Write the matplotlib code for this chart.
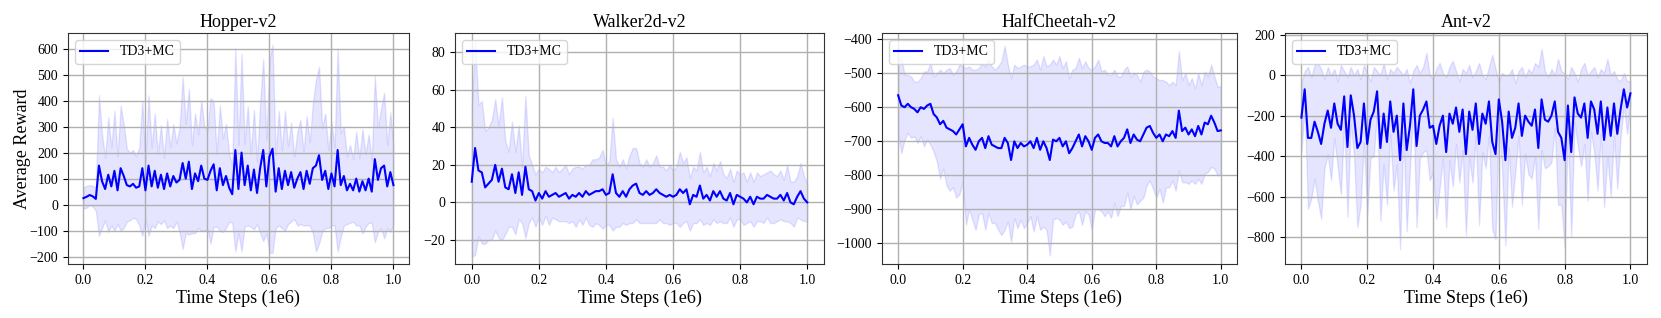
import numpy as np
import matplotlib
matplotlib.use("Agg")
import matplotlib.pyplot as plt

# x axis: evaluation points (1e6 steps)
steps = np.linspace(0.0, 1.0, 101)

titles = ["Hopper-v2", "Walker2d-v2", "HalfCheetah-v2", "Ant-v2"]

# Hopper-v2
hopper_mean = [25, 30, 37, 32, 22, 150, 90, 60, 115, 70,
               130, 55, 140, 110, 75, 70, 80, 65, 70, 140,
               55, 150, 70, 130, 65, 115, 60, 120, 70, 110,
               85, 95, 160, 100, 165, 60, 120, 90, 150, 100,
               95, 130, 155, 55, 140, 75, 110, 65, 40, 210,
               60, 200, 75, 150, 55, 135, 45, 140, 210, 70,
               185, 215, 50, 140, 60, 130, 75, 125, 65, 100,
               125, 60, 130, 80, 140, 150, 190, 95, 130, 60,
               120, 70, 210, 75, 110, 55, 80, 55, 100, 50,
               90, 55, 100, 50, 175, 95, 140, 150, 70, 125, 75]
hopper_std = [40, 42, 38, 40, 45, 270, 180, 120, 220, 150,
              230, 130, 240, 200, 140, 130, 130, 120, 150, 260,
              110, 270, 150, 220, 130, 190, 120, 210, 150, 200,
              150, 200, 330, 210, 280, 170, 230, 180, 250, 200,
              190, 280, 240, 140, 240, 180, 200, 130, 110, 390,
              170, 380, 160, 230, 140, 230, 120, 250, 350, 180,
              370, 400, 140, 220, 150, 230, 150, 190, 120, 180,
              200, 140, 210, 160, 250, 330, 340, 200, 220, 150,
              200, 150, 390, 200, 190, 130, 150, 120, 180, 130,
              200, 140, 170, 120, 320, 200, 230, 280, 160, 230, 150]

# Walker2d-v2
walker_mean = [11, 29, 17, 16, 8, 10, 12, 20, 11, 18,
               8, 7, 15, 5, 16, 4, 19, 7, 6, 1,
               5, 2, 6, 3, 4, 5, 3, 4, 5, 2,
               4, 3, 5, 3, 6, 4, 5, 6, 6, 7,
               4, 5, 15, 5, 3, 6, 3, 7, 9, 10,
               5, 4, 6, 4, 5, 7, 5, 4, 3, 4,
               3, 4, 7, 5, 7, -1, 4, 3, 9, 2,
               4, 1, 6, 3, 6, 2, 1, 5, -1, 4,
               3, 2, 0, 3, -1, 3, 2, 2, 4, 3,
               2, 2, 4, 1, 5, 0, -1, 3, 6, 2, 0]
walker_std = [40, 57, 35, 38, 30, 30, 32, 35, 30, 38,
              25, 20, 28, 22, 25, 15, 38, 18, 14, 14,
              13, 14, 13, 15, 12, 14, 13, 14, 15, 13,
              14, 16, 14, 15, 14, 16, 18, 17, 18, 21,
              16, 17, 30, 18, 16, 17, 15, 18, 20, 19,
              16, 15, 17, 15, 16, 18, 14, 15, 14, 16,
              14, 15, 20, 16, 17, 14, 15, 14, 18, 14,
              15, 13, 15, 14, 16, 13, 12, 13, 12, 13,
              12, 14, 11, 13, 12, 13, 12, 13, 12, 14,
              13, 12, 13, 11, 15, 11, 12, 11, 15, 12, 10]

# HalfCheetah-v2
cheetah_mean = [-565, -595, -600, -590, -600, -605, -615, -600, -605, -595,
                -590, -620, -630, -650, -640, -660, -665, -670, -680, -665,
                -650, -715, -690, -710, -725, -700, -690, -720, -685, -710,
                -715, -720, -720, -690, -705, -755, -700, -720, -705, -715,
                -710, -700, -720, -690, -725, -700, -720, -755, -695, -700,
                -690, -715, -700, -735, -720, -700, -680, -715, -685, -700,
                -725, -690, -680, -700, -705, -705, -715, -685, -715, -700,
                -690, -665, -705, -680, -695, -700, -680, -660, -655, -675,
                -690, -680, -700, -680, -685, -670, -690, -610, -670, -660,
                -680, -665, -685, -655, -680, -645, -650, -625, -645, -670, -668]
cheetah_std = [110, 140, 95, 85, 90, 80, 90, 85, 110, 100,
               120, 110, 130, 160, 140, 170, 180, 165, 185, 190,
               170, 230, 210, 220, 235, 215, 220, 240, 225, 230,
               225, 240, 255, 270, 230, 240, 225, 235, 225, 240,
               230, 220, 245, 230, 235, 250, 240, 280, 235, 225,
               240, 230, 235, 220, 230, 215, 225, 230, 220, 215,
               235, 210, 220, 205, 215, 200, 210, 195, 205, 190,
               200, 185, 195, 180, 190, 175, 185, 170, 160, 165,
               175, 160, 180, 155, 150, 145, 155, 175, 150, 160,
               145, 150, 140, 155, 145, 150, 140, 150, 135, 130, 130]

# Ant-v2
ant_mean = [-210, -70, -310, -310, -230, -280, -340, -240, -175, -260,
            -140, -240, -270, -105, -355, -100, -200, -360, -330, -140,
            -340, -220, -180, -80, -360, -190, -330, -130, -280, -200,
            -420, -140, -370, -250, -70, -350, -200, -170, -130, -260,
            -250, -340, -250, -200, -380, -190, -240, -160, -280, -170,
            -390, -180, -270, -140, -340, -190, -240, -130, -330, -390,
            -120, -230, -420, -180, -310, -260, -140, -300, -200, -230,
            -250, -170, -360, -120, -220, -230, -200, -130, -280, -310,
            -420, -150, -380, -110, -190, -210, -140, -310, -130, -170,
            -290, -130, -320, -160, -300, -140, -290, -170, -70, -160, -90]
ant_std = [170, 90, 350, 300, 280, 340, 370, 220, 215, 260,
           170, 210, 320, 125, 345, 140, 200, 390, 310, 190,
           350, 190, 220, 100, 360, 250, 310, 160, 290, 240,
           440, 140, 400, 210, 90, 400, 210, 210, 240, 260,
           230, 370, 310, 210, 370, 230, 310, 180, 250, 200,
           400, 230, 260, 160, 400, 190, 220, 170, 430, 420,
           90, 240, 420, 180, 340, 220, 160, 340, 190, 260,
           260, 230, 400, 250, 240, 220, 230, 130, 360, 330,
           430, 130, 420, 120, 160, 240, 200, 310, 150, 210,
           280, 160, 330, 240, 300, 160, 270, 140, 80, 130, 60]

means = [hopper_mean, walker_mean, cheetah_mean, ant_mean]
stds = [hopper_std, walker_std, cheetah_std, ant_std]
ylims = [(-228, 660), (-32.8, 90.3), (-1060, -382), (-932, 208)]
yticks = [np.arange(-200, 601, 100), np.arange(-20, 81, 20),
          np.arange(-1000, -399, 100), np.arange(-800, 201, 200)]

# 字体：Times 风格
plt.rcParams['font.family'] = ['Liberation Serif', 'DejaVu Serif']

fig = plt.figure(figsize=(16.61, 3.18), dpi=100)
# 每个子图的位置 [left, bottom, width, height]
boxes = [[0.0409, 0.170, 0.2053, 0.7264],
         [0.2739, 0.170, 0.2222, 0.7264],
         [0.5310, 0.170, 0.2137, 0.7264],
         [0.7736, 0.170, 0.2179, 0.7264]]

for i in range(4):
    ax = fig.add_axes(boxes[i])
    m = np.array(means[i], dtype=float)
    s = np.array(stds[i], dtype=float)
    ax.fill_between(steps, m - s, m + s, color='blue', alpha=0.1)
    ax.plot(steps, m, color='blue', linewidth=1.5, label='TD3+MC')
    ax.set_xlim(-0.05, 1.05)
    ax.set_ylim(*ylims[i])
    ax.set_xticks(np.arange(0, 1.01, 0.2))
    ax.set_yticks(yticks[i])
    ax.tick_params(labelsize=10)
    ax.grid(True, color='#b0b0b0', linewidth=1.0)
    for sp in ax.spines.values():
        sp.set_color('#333333')
    ax.set_title(titles[i], fontsize=13, pad=4)
    ax.set_xlabel('Time Steps (1e6)', fontsize=13, labelpad=2)
    if i == 0:
        ax.set_ylabel('Average Reward', fontsize=13, labelpad=-1)
    ax.legend(loc='upper left', fontsize=10)

fig.savefig('out.png', dpi=100)
